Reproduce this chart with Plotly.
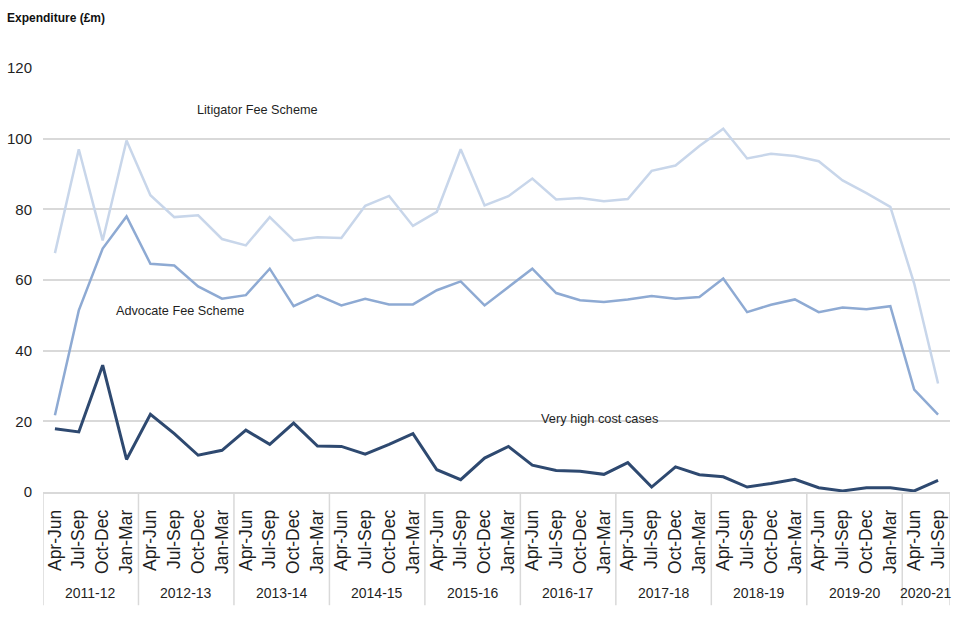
import plotly.graph_objects as go

years = ["2011-12", "2012-13", "2013-14", "2014-15", "2015-16",
         "2016-17", "2017-18", "2018-19", "2019-20", "2020-21"]
quarters = ["Apr-Jun", "Jul-Sep", "Oct-Dec", "Jan-Mar"]
quarters_per_year = [4, 4, 4, 4, 4, 4, 4, 4, 4, 2]

litigator = [67.6, 97.0, 71.2, 99.5, 84.0, 77.8, 78.3, 71.6, 69.8, 77.8, 71.2, 72.1,
             71.9, 81.0, 83.8, 75.3, 79.3, 97.0, 81.1, 83.7, 88.7, 82.8, 83.2, 82.3,
             82.9, 90.9, 92.4, 97.9, 102.8, 94.4, 95.7, 95.1, 93.6, 88.2, 84.6, 80.7,
             59.0, 30.7]
advocate = [21.7, 51.4, 68.9, 78.0, 64.6, 64.1, 58.2, 54.7, 55.7, 63.2, 52.6, 55.7,
            52.8, 54.7, 53.1, 53.1, 57.1, 59.6, 52.8, 57.9, 63.2, 56.3, 54.3, 53.8,
            54.5, 55.5, 54.7, 55.2, 60.4, 50.9, 53.0, 54.5, 50.9, 52.2, 51.7, 52.6,
            29.0, 21.9]
vhcc = [17.9, 17.0, 35.9, 9.2, 22.0, 16.5, 10.4, 11.8, 17.5, 13.5, 19.5, 13.0,
        12.9, 10.7, 13.5, 16.5, 6.3, 3.5, 9.6, 12.9, 7.6, 6.1, 5.9, 5.0,
        8.3, 1.4, 7.1, 4.9, 4.3, 1.4, 2.4, 3.6, 1.2, 0.3, 1.2, 1.2,
        0.3, 3.3]

# quarter labels along the axis, built from the year/quarter lists
x_quarter = []
for n in quarters_per_year:
    x_quarter.extend(quarters[:n])
x_idx = list(range(len(x_quarter)))
n_points = len(x_idx)

FONT = "Liberation Sans, Arial, sans-serif"
TXT = "#1f1f1f"
GRID = "#d9d9d9"

fig = go.Figure()
fig.add_trace(go.Scatter(x=x_idx, y=litigator, mode="lines", name="Litigator Fee Scheme",
                         line=dict(color="#c8d6ea", width=2.5)))
fig.add_trace(go.Scatter(x=x_idx, y=advocate, mode="lines", name="Advocate Fee Scheme",
                         line=dict(color="#8eaad3", width=2.5)))
fig.add_trace(go.Scatter(x=x_idx, y=vhcc, mode="lines", name="Very high cost cases",
                         line=dict(color="#2e4970", width=3)))

fig.update_layout(
    width=960, height=640,
    margin=dict(l=43, r=10, t=68, b=148, autoexpand=False),
    paper_bgcolor="white", plot_bgcolor="white",
    showlegend=False,
    font=dict(family=FONT, size=15, color=TXT),
    xaxis=dict(range=[-0.5, n_points - 0.5], tickmode="array",
               tickvals=x_idx, ticktext=x_quarter, tickangle=-90,
               showgrid=False, zeroline=False, automargin=False,
               showline=True, linecolor=GRID, linewidth=1.5,
               ticks="outside", ticklen=9, tickcolor="rgba(0,0,0,0)",
               tickfont=dict(family=FONT, size=17.5, color=TXT)),
    yaxis=dict(range=[0, 120], dtick=20, showgrid=True, gridcolor=GRID,
               gridwidth=1.5, zeroline=False, showline=False, ticks="",
               ticklabelstandoff=10, automargin=False,
               tickfont=dict(family=FONT, size=15, color=TXT)),
)

# year group dividers and labels
start = 0
bounds = [-0.5]
for yr, n in zip(years, quarters_per_year):
    centre = start + (n - 1) / 2
    fig.add_annotation(text=yr, xref="x", yref="paper", x=centre, y=-0.239,
                       xanchor="center", yanchor="middle", showarrow=False,
                       font=dict(family=FONT, size=14, color=TXT))
    start += n
    bounds.append(start - 0.5)
for b in bounds:
    fig.add_shape(type="line", xref="x", yref="paper", x0=b, x1=b, y0=0, y1=-0.267,
                  line=dict(color=GRID, width=1.5))

fig.add_annotation(text="<b>Expenditure (£m)</b>", xref="paper", yref="paper",
                   x=-0.0419, y=1.119, xanchor="left", yanchor="middle", showarrow=False,
                   font=dict(family=FONT, size=12, color="#111111"))
fig.add_annotation(text="Litigator Fee Scheme", xref="paper", yref="y",
                   x=0.237, y=108.2, xanchor="center", yanchor="middle", showarrow=False,
                   font=dict(family=FONT, size=12.7, color=TXT))
fig.add_annotation(text="Advocate Fee Scheme", xref="paper", yref="y",
                   x=0.151, y=51.1, xanchor="center", yanchor="middle", showarrow=False,
                   font=dict(family=FONT, size=12.7, color=TXT))
fig.add_annotation(text="Very high cost cases", xref="paper", yref="y",
                   x=0.614, y=20.8, xanchor="center", yanchor="middle", showarrow=False,
                   font=dict(family=FONT, size=12.8, color=TXT))

fig.write_html("out.html", post_script="document.body.style.margin='0';",
               config={"displayModeBar": False})
